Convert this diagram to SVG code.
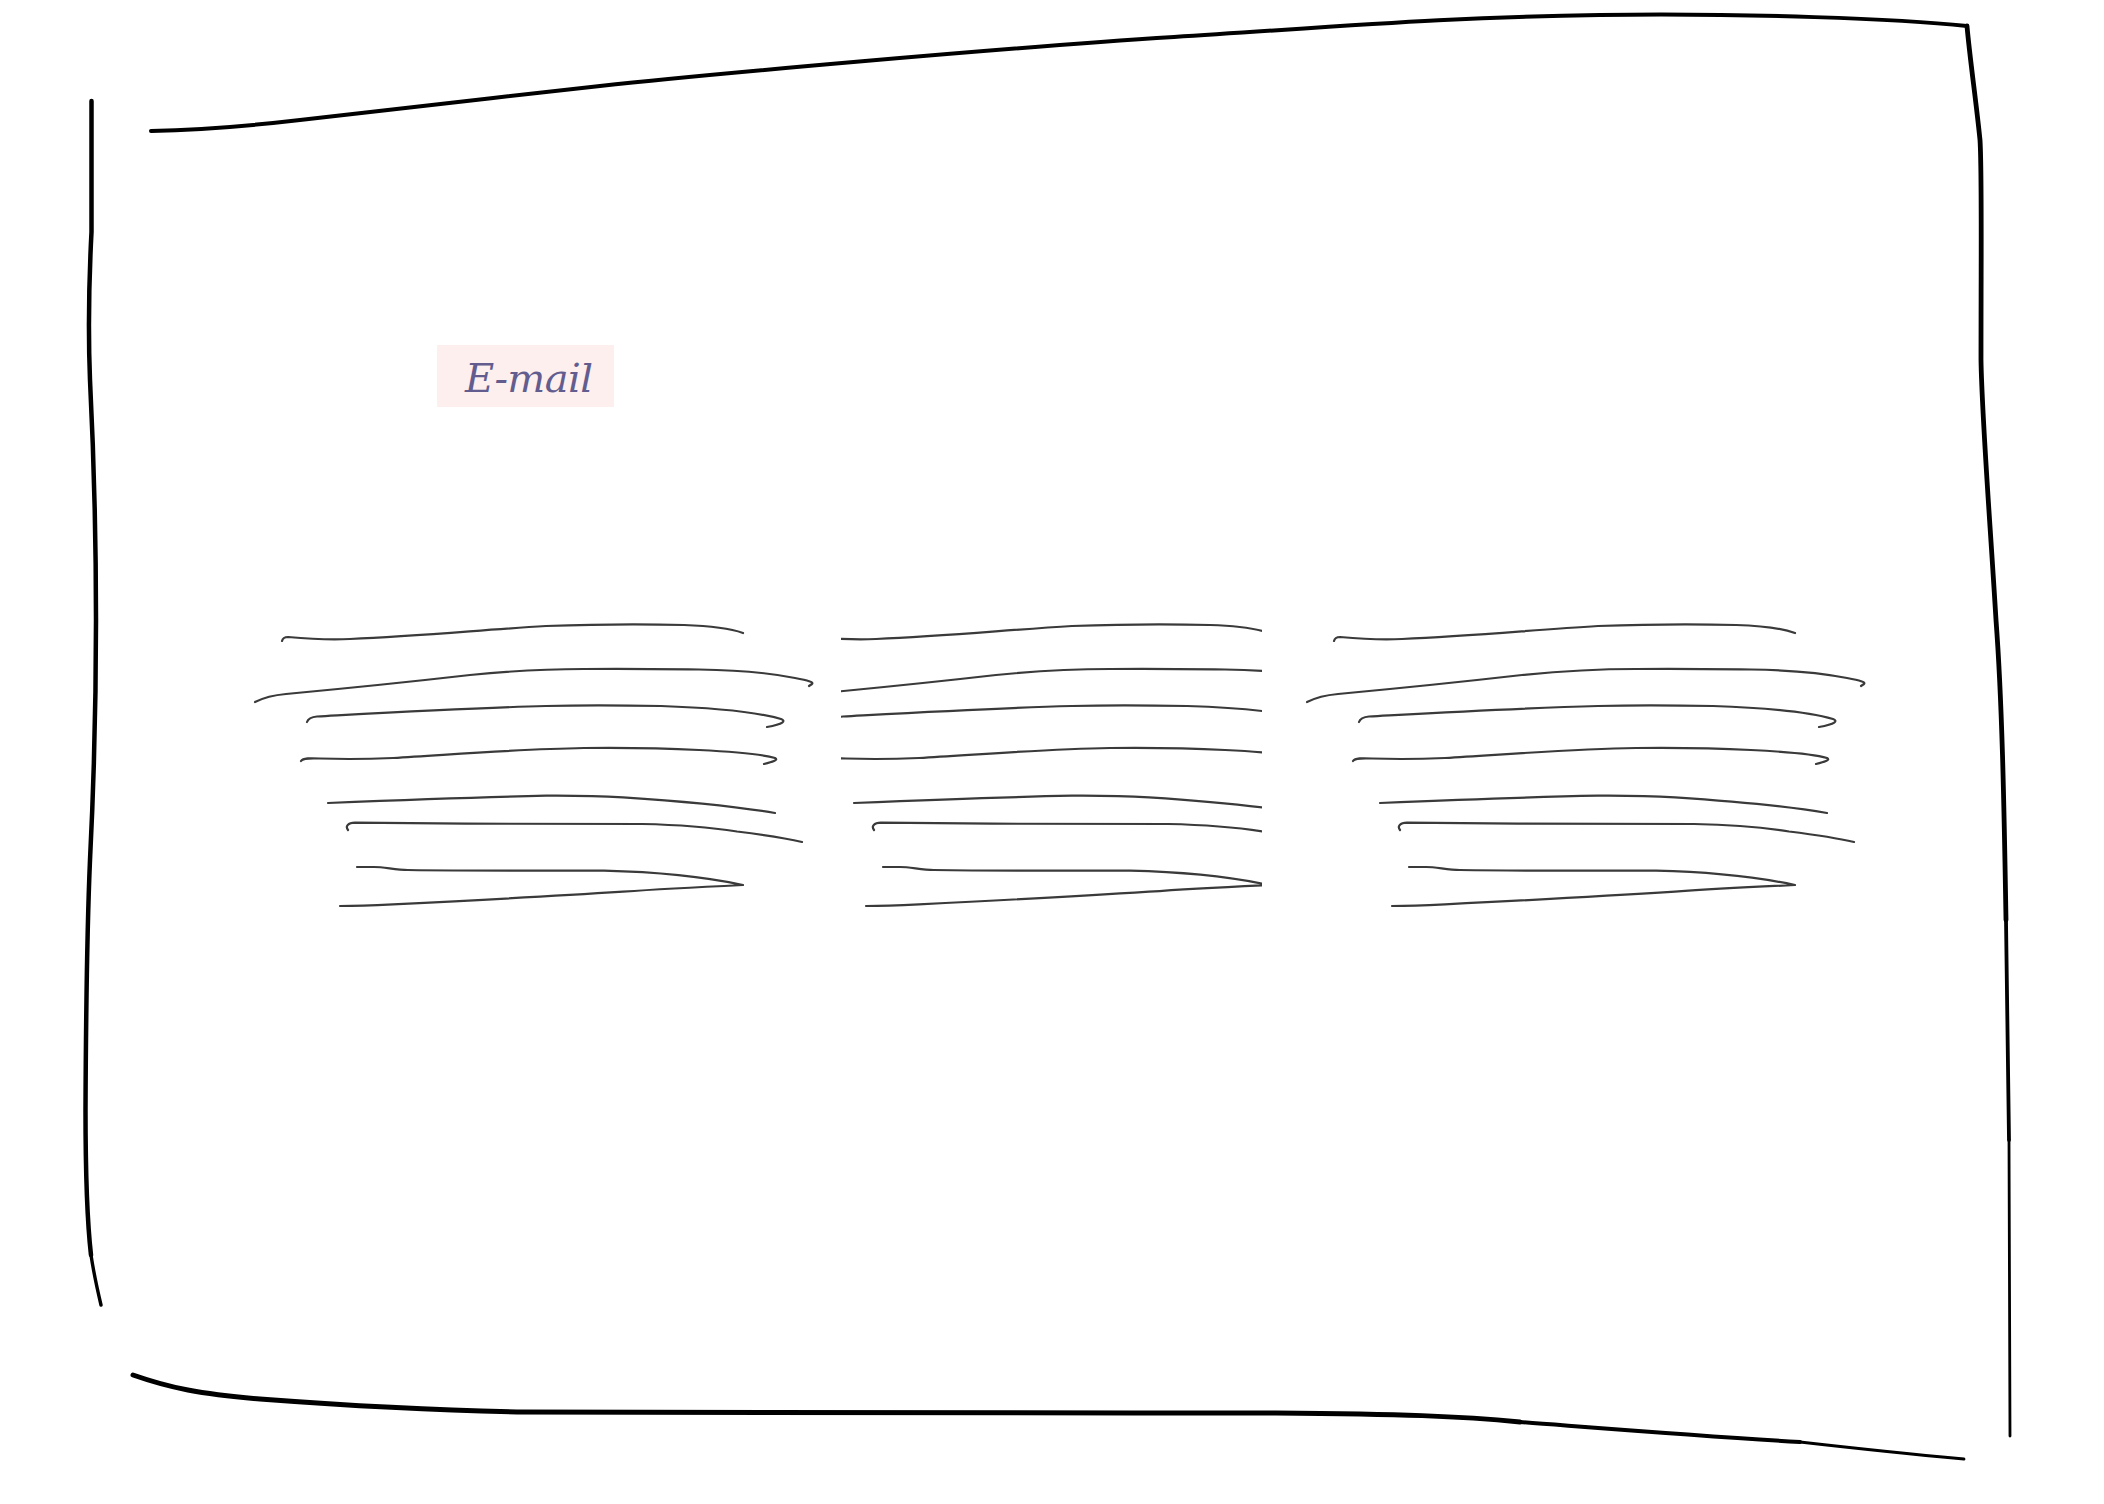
<svg xmlns="http://www.w3.org/2000/svg" xmlns:xlink="http://www.w3.org/1999/xlink" width="2104" height="1504" viewBox="0 0 2104 1504">
<style>
.frame{fill:none;stroke:#000;stroke-linecap:round;stroke-linejoin:round}
.scribble{fill:none;stroke:#3a3a3a;stroke-width:2.2;stroke-linecap:round;stroke-linejoin:round}
.label-bg{fill:#fcefee}
.label-text{font-family:"DejaVu Serif","Liberation Serif",serif;font-style:italic;font-size:40px;fill:#625c8f}
</style>
<defs>
<g id="lines">
<path class="scribble" d="M282,641 Q283,637 288,637 C310,639 330,640 350,639 C420,636 480,630 546,626 C600,624 650,624 684,625 C715,626 732,629 743,633"/>
<path class="scribble" d="M255,702 C265,697 275,695 286,694 C350,688 400,683 470,675 C510,671 545,669 584,669 C630,668.5 660,669 699,669.5 C740,670 775,674 795,678 C808,680.5 814,682 812,684 L809,686"/>
<path class="scribble" d="M307,722 C308,719 311,717 317,716.5 C400,712 470,708 546,706 C590,705 630,705.5 661,706 C720,708 760,713 781,719 C786,721 784,724 767,727"/>
<path class="scribble" d="M301,761 C303,758 310,758 320,758.5 C350,759.5 370,759 393,758 C460,754 520,749 584,748 C630,747.5 670,748.5 699,750 C740,752 765,755 775,758 C779,760 772,762 764,764"/>
<path class="scribble" d="M328,803 C400,800 480,797 546,795.7 C580,795.5 600,796 623,797.3 C680,801 740,807 775,813"/>
<path class="scribble" d="M348,830 C345,826 348,823 355,822.7 C450,824 550,824 642,824 C690,825 715,828 737,831.5 C765,835 785,838 802,842"/>
<path class="scribble" d="M357,867 L374,867 C385,867 395,870 408,870 C480,871 540,870.5 604,870.7 C660,872 700,876 743,885 C700,887 660,889 623,891.7 C540,897 460,901 393,904.3 C370,905.5 355,906 340,906"/>
</g>
<clipPath id="mid-clip" clipPathUnits="userSpaceOnUse">
<rect x="841" y="590" width="421" height="340"/>
</clipPath>
</defs>
<rect width="2104" height="1504" fill="#fff"/>
<g id="frame">
<path class="frame" stroke-width="4.5" d="M91.5,101 L91.5,232 C89,280 88,330 90,380 C93,440 96,520 96,620 C96,700 94,780 90,860 C87,930 86,1000 85.5,1110 C85.5,1180 87,1220 91,1255"/>
<path class="frame" stroke-width="3.4" d="M91,1255 C94,1275 97,1288 101,1305"/>
<path class="frame" stroke-width="4" d="M151,131 C200,130 240,127 300,120 S500,97 600,86 S1000,48 1174,37 S1450,17 1600,15 S1900,19 1967,26"/>
<path class="frame" stroke-width="4.8" d="M1967,26 C1970,60 1976,100 1980,140 C1982,170 1981,250 1981,360 C1982,420 1990,520 1996,620 C2002,700 2004,800 2006,920"/>
<path class="frame" stroke-width="3.8" d="M2006,920 C2007.5,1000 2008.5,1070 2009,1140"/>
<path class="frame" stroke-width="2.8" d="M2009,1140 C2009.5,1250 2010,1350 2010,1436"/>
<path class="frame" stroke-width="5" d="M133,1375 C170,1388 200,1394 260,1399 C340,1405 420,1410 517,1412 C700,1414 1000,1413 1276,1413 C1400,1414 1460,1416 1520,1422"/>
<path class="frame" stroke-width="4" d="M1520,1422 C1600,1428 1700,1436 1800,1442"/>
<path class="frame" stroke-width="2.8" d="M1800,1442 C1870,1450 1920,1455 1964,1459"/>
</g>
<g id="email-label">
<rect class="label-bg" x="437" y="345" width="177" height="62"/>
<text class="label-text" x="465" y="392" textLength="128" lengthAdjust="spacing">E-mail</text>
</g>
<g id="text-block-left">
<use xlink:href="#lines"/>
</g>
<g id="text-block-middle" clip-path="url(#mid-clip)">
<use xlink:href="#lines" transform="translate(526,0)"/>
</g>
<g id="text-block-right">
<use xlink:href="#lines" transform="translate(1052,0)"/>
</g>
</svg>
